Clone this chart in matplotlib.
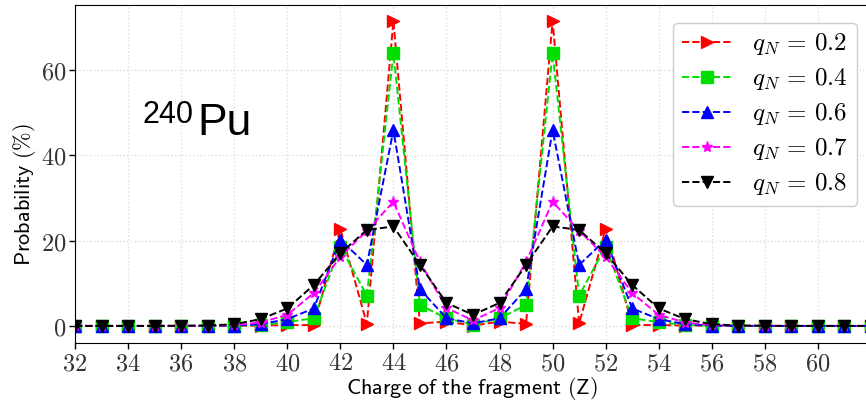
import matplotlib
matplotlib.use("Agg")
import matplotlib.pyplot as plt

plt.rcParams["mathtext.fontset"] = "cm"

# ============================================================
# DATA
# ============================================================
charge = list(range(32, 63))

prob_02 = [0, 0, 0, 0, 0, 0, 0.05, 0.1, 0.2, 0.2, 22.7, 0.5, 71.5, 0.6, 1.0, 0.1,
           1.0, 0.5, 71.5, 0.6, 22.7, 0.2, 0.2, 0.1, 0.05, 0, 0, 0, 0, 0, 0]
prob_04 = [0, 0, 0, 0, 0, 0, 0.1, 0.2, 0.9, 1.8, 18.6, 7.1, 63.9, 4.9, 1.8, 0.3,
           1.8, 4.9, 63.9, 7.1, 18.6, 1.8, 0.9, 0.2, 0.1, 0, 0, 0, 0, 0, 0]
prob_06 = [0, 0, 0, 0, 0, 0, 0.1, 0.4, 1.6, 4.1, 20.2, 14.3, 45.9, 8.6, 1.8, 0.6,
           1.8, 8.6, 45.9, 14.3, 20.2, 4.1, 1.6, 0.4, 0.1, 0, 0, 0, 0, 0, 0]
prob_07 = [0, 0, 0, 0, 0, 0.05, 0.2, 0.8, 2.6, 7.7, 16.2, 22.3, 29.1, 15.0, 4.2, 1.3,
           4.2, 15.0, 29.1, 22.3, 16.2, 7.7, 2.6, 0.8, 0.2, 0.05, 0, 0, 0, 0, 0]
prob_08 = [0, 0, 0, 0, 0.05, 0.1, 0.4, 1.6, 4.1, 9.6, 17.0, 22.5, 23.3, 14.3, 5.4, 2.6,
           5.4, 14.3, 23.3, 22.5, 17.0, 9.6, 4.1, 1.6, 0.4, 0.1, 0.05, 0, 0, 0, 0]

series = [
    (prob_02, "0.2", "#ff0000", ">"),
    (prob_04, "0.4", "#00e000", "s"),
    (prob_06, "0.6", "#0000ff", "^"),
    (prob_07, "0.7", "#ff00ff", "*"),
    (prob_08, "0.8", "#000000", "v"),
]

x_ticks = list(range(32, 61, 2))
y_ticks = [0, 20, 40, 60]

# ============================================================
# FIGURE
# ============================================================
fig = plt.figure(figsize=(8.66, 4.03), dpi=100)
ax = fig.add_axes([75 / 866, 60 / 403, 796 / 866, 338 / 403])

for values, q, color, marker in series:
    ax.plot(charge, values, linestyle="--", color=color, marker=marker,
            markersize=8, linewidth=1.4, label=r"$q_N \,=\, %s$" % q)

ax.set_xlim(32, 62)
ax.set_ylim(-4, 75.2)
ax.set_xticks(x_ticks)
ax.set_xticklabels([r"$%d$" % t for t in x_ticks], fontsize=17.5, color="#333333")
ax.set_yticks(y_ticks)
ax.set_yticklabels([r"$%d$" % t for t in y_ticks], fontsize=17.5, color="#333333")
ax.tick_params(direction="out", length=4, width=1, pad=2)
ax.grid(True, linestyle=":", color="#dddddd", linewidth=1.0)

ax.set_xlabel(r"$\mathsf{Charge\ of\ the\ fragment\ (Z)}$", fontsize=16, va="top")
ax.xaxis.set_label_coords(0.499, -0.094)
ax.set_ylabel(r"$\mathsf{Probability\ (\%)}$", fontsize=16, va="center")
ax.yaxis.set_label_coords(-0.064, 0.44)

leg = ax.legend(loc="upper right", fontsize=18, handlelength=2.0, handletextpad=0.8,
                numpoints=1, framealpha=1.0, edgecolor="#cccccc", borderpad=0.35,
                labelspacing=0.36, bbox_to_anchor=(0.9975, 0.985))

fig.text(143 / 866, 1 - 123 / 403, "240", fontsize=22, family="Liberation Sans")
fig.text(197 / 866, 1 - 135 / 403, "Pu", fontsize=32, family="Liberation Sans")

fig.savefig("out.png", dpi=100)
